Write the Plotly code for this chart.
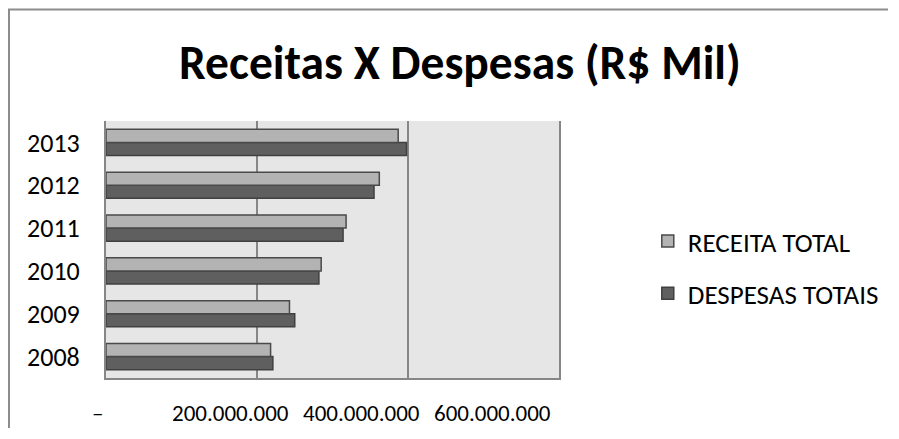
import plotly.graph_objects as go

anos = ["2008", "2009", "2010", "2011", "2012", "2013"]
receita_total = [218e6, 243e6, 285e6, 318e6, 362e6, 387e6]
despesas_totais = [221e6, 250e6, 282e6, 314e6, 355e6, 398e6]

x_ticks = [0, 200e6, 400e6, 600e6]
x_tick_text = ["200.000.000", "400.000.000", "600.000.000"]
# labels sit left of their gridlines in the original
x_label_pos = [165e6, 338e6, 512e6]

FONT = "Carlito, Lato, sans-serif"

fig = go.Figure()
fig.add_trace(go.Bar(
    y=anos, x=despesas_totais, orientation="h",
    name="DESPESAS TOTAIS", legendgroup="d", legendrank=2,
    marker=dict(color="#5f5f5f", line=dict(color="#404040", width=1.5)),
))
fig.add_trace(go.Bar(
    y=anos, x=receita_total, orientation="h",
    name="RECEITA TOTAL", legendgroup="r", legendrank=1,
    marker=dict(color="#b3b3b3", line=dict(color="#4a4a4a", width=1.5)),
))

for v, t in zip(x_label_pos, x_tick_text):
    fig.add_annotation(x=v, y=0, xref="x", yref="paper", xanchor="center",
                       yanchor="middle", yshift=-35, text=t, showarrow=False,
                       font=dict(family=FONT, size=23, color="#000000"))
# the zero label ("–") sits just left of the axis
fig.add_annotation(x=-0.018, y=0, xref="paper", yref="paper", xanchor="center",
                   yanchor="middle", yshift=-35, text="–", showarrow=False,
                   font=dict(family=FONT, size=23, color="#000000"))

# page body adds an 8px margin; keep the figure small enough to avoid scrollbars
fig.update_layout(
    width=880, height=420,
    margin=dict(l=98, r=329, t=113, b=50, autoexpand=False),
    paper_bgcolor="white",
    plot_bgcolor="#e6e6e6",
    barmode="group",
    bargap=0.39,
    bargroupgap=0,
    title=dict(text="<b>Receitas X Despesas (R$ Mil)</b>",
               x=0.5136, xanchor="center", y=0.871, yanchor="middle",
               font=dict(family=FONT, size=47.5, color="#000000")),
    xaxis=dict(range=[0, 600e6], tickvals=x_ticks, showticklabels=False,
               showgrid=True, gridcolor="#868686", gridwidth=2,
               showline=True, linecolor="#868686", linewidth=2,
               zeroline=False, fixedrange=True),
    yaxis=dict(type="category", showgrid=False, zeroline=False,
               showline=True, mirror=True, linecolor="#868686", linewidth=2,
               ticks="", ticklabelstandoff=19,
               tickfont=dict(family=FONT, size=26, color="#000000")),
    legend=dict(x=1.196, xanchor="left", y=0.43, yanchor="middle",
                traceorder="grouped", tracegroupgap=14,
                font=dict(family=FONT, size=27, color="#000000")),
    showlegend=True,
)

# chart frame: only left and top edges fall inside the window
fx0 = (9 - 106) / 453
fx1 = (950 - 106) / 453
fy0 = (378 - 480) / 257
fy1 = (378 - 9.5) / 257
fig.add_shape(type="path", xref="paper", yref="paper",
              path=f"M {fx0},{fy0} L {fx0},{fy1} L {fx1},{fy1}",
              line=dict(color="#8c8c8c", width=2), layer="below")

fig.write_html("out.html")
